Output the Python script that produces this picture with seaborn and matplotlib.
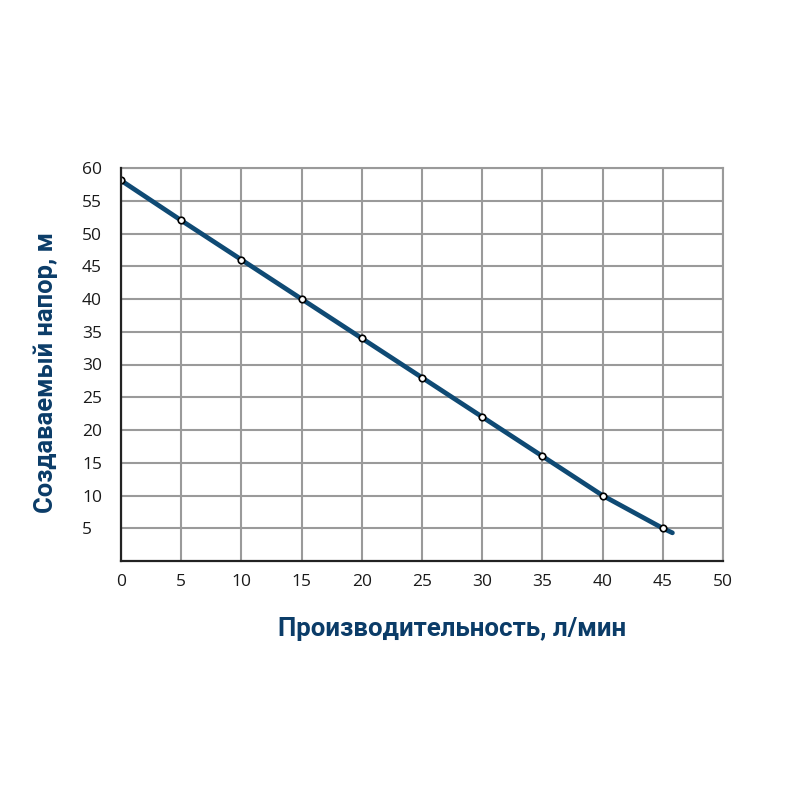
import matplotlib
matplotlib.use("Agg")
import matplotlib.pyplot as plt
import seaborn as sns
import pandas as pd

flow = [0, 5, 10, 15, 20, 25, 30, 35, 40, 45]
head = [58.1, 52.0, 46.0, 40.0, 34.0, 28.0, 22.0, 16.0, 10.0, 5.0]
flow_end = 45.8
head_end = 4.3
x_ticks = [0, 5, 10, 15, 20, 25, 30, 35, 40, 45, 50]
y_ticks = [5, 10, 15, 20, 25, 30, 35, 40, 45, 50, 55, 60]

sns.set_theme(style="white")
plt.rcParams['font.family'] = ['Open Sans', 'DejaVu Sans']

df_pts = pd.DataFrame({"x": flow, "y": head})
df_line = pd.DataFrame({"x": flow + [flow_end], "y": head + [head_end]})

fig = plt.figure(figsize=(8, 8), dpi=100)
ax = fig.add_axes([0.15125, 0.29875, 0.7525, 0.49125])

line_color = "#0f4a74"
label_color = "#0b3c68"

sns.lineplot(data=df_line, x="x", y="y", ax=ax, color=line_color, linewidth=3.4, zorder=3)
sns.scatterplot(data=df_pts, x="x", y="y", ax=ax, s=22, color="white",
                edgecolor="black", linewidth=1.2, zorder=4)

ax.set_xlim(0, 50)
ax.set_ylim(0, 60)
ax.set_xticks(x_ticks)
ax.set_yticks(y_ticks)
ax.set_xticklabels([str(v) for v in x_ticks])
ax.set_yticklabels([str(v) for v in y_ticks])
ax.grid(True, color="#9a9a9a", linewidth=1.5)
ax.set_axisbelow(True)

for s in ["top", "right"]:
    ax.spines[s].set_color("#9a9a9a")
    ax.spines[s].set_linewidth(1.5)
for s in ["left", "bottom"]:
    ax.spines[s].set_color("#222222")
    ax.spines[s].set_linewidth(1.6)
    ax.spines[s].set_zorder(5)

ax.tick_params(axis="both", length=0, labelsize=12.5, colors="#1a1a1a")
ax.tick_params(axis="y", pad=28)
ax.tick_params(axis="x", pad=9)
for lbl in ax.get_yticklabels():
    lbl.set_horizontalalignment("left")

ax.set_xlabel("Производительность, л/мин", fontsize=18.6, fontweight="bold",
              color=label_color, family=["Roboto", "DejaVu Sans"])
ax.set_ylabel("Создаваемый напор, м", fontsize=18.4, fontweight="bold",
              color=label_color, family=["Roboto", "DejaVu Sans"])
ax.xaxis.set_label_coords((452 - 121) / 602, (561 - 617) / 393)
ax.yaxis.set_label_coords((58 - 121) / 602, 0.48)

fig.savefig("out.png", dpi=100, facecolor="white")
